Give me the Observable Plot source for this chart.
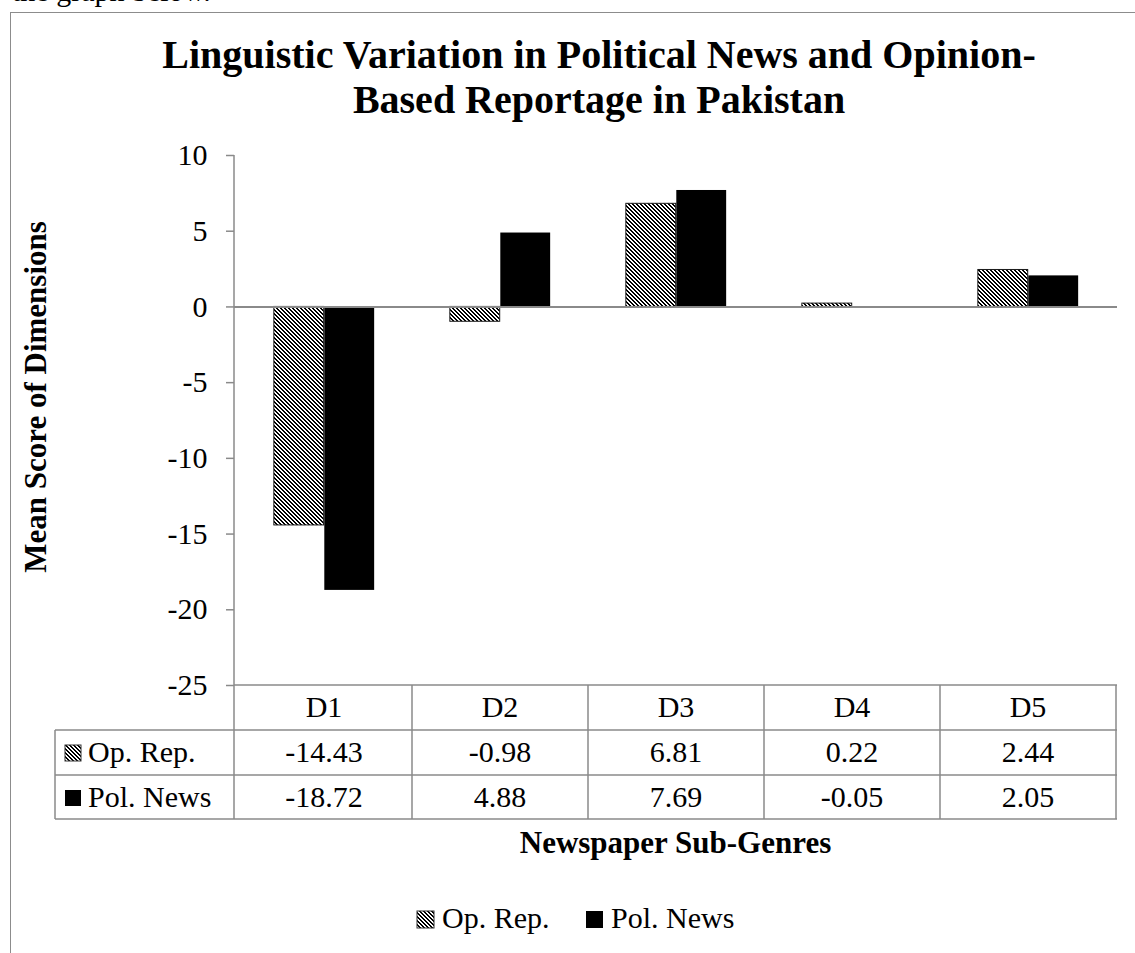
<!DOCTYPE html>
<html>
<head>
<meta charset="utf-8">
<script src="https://cdn.jsdelivr.net/npm/d3@7"></script>
<script src="https://cdn.jsdelivr.net/npm/@observablehq/plot@0.6"></script>
<style>
  html, body { margin: 0; padding: 0; background: #fff; overflow: hidden; }
  #page { position: relative; width: 1135px; height: 953px; overflow: hidden; font-family: "Liberation Serif", "Times New Roman", serif; }
  #intro { position: absolute; left: 12px; top: -24px; font-size: 30px; line-height: 30px; color: #000; white-space: nowrap; }
  #border { position: absolute; left: 10px; top: 12px; width: 1300px; height: 1200px; border: 1.5px solid #8c8c8c; box-sizing: border-box; }
  #chart { position: absolute; left: 0; top: 0; }
  #chart svg, #chart svg text { font-family: "Liberation Serif", "Times New Roman", serif !important; }
  #chart svg [aria-label="y-axis tick"] path, #chart svg .tick line { stroke: #8a8a8a; stroke-width: 1.5px; }
</style>
</head>
<body>
<div id="page">
  <div id="intro">the graph below.</div>
  <div id="border"></div>
  <div id="chart"></div>
</div>
<script>
const categories = ["D1", "D2", "D3", "D4", "D5"];
const seriesNames = ["Op. Rep.", "Pol. News"];
const opRep = [-14.43, -0.98, 6.81, 0.22, 2.44];
const polNews = [-18.72, 4.88, 7.69, -0.05, 2.05];
const tableLabels = ["-14.43", "-0.98", "6.81", "0.22", "2.44", "-18.72", "4.88", "7.69", "-0.05", "2.05"];
const yTicks = [10, 5, 0, -5, -10, -15, -20, -25];
const titleLines = ["Linguistic Variation in Political News and Opinion-", "Based Reportage in Pakistan"];
const yTitle = "Mean Score of Dimensions";
const xTitle = "Newspaper Sub-Genres";

const opData = categories.map((c, i) => ({cat: c, series: seriesNames[0], value: opRep[i]}));
const polData = categories.map((c, i) => ({cat: c, series: seriesNames[1], value: polNews[i]}));

const W = 1135, H = 953;
const mL = 234, mR = 18, mT = 155, mB = 268;
const bw = (W - mL - mR) / categories.length;
const barW = bw * 0.2857;
const outer = bw / 2 - barW;
const serif = "'Liberation Serif', 'Times New Roman', serif";

const chart = Plot.plot({
  width: W,
  height: H,
  marginLeft: mL,
  marginRight: mR,
  marginTop: mT,
  marginBottom: mB,
  style: {fontFamily: serif, fontSize: "30px", color: "#000", background: "transparent", overflow: "visible"},
  x: {type: "band", domain: categories, padding: 0, axis: null},
  y: {domain: [-25, 10], ticks: yTicks, tickSize: 8, tickPadding: 19, tickFormat: d => String(d), label: null, line: false},
  marks: [
    Plot.barY(opData, {x: "cat", y: "value", fill: "url(#hatch)", stroke: "#1a1a1a", strokeWidth: 1, insetLeft: outer, insetRight: bw / 2}),
    Plot.barY(polData, {x: "cat", y: "value", fill: "#000", insetLeft: bw / 2, insetRight: outer}),
    Plot.ruleY([0], {stroke: "#8a8a8a", strokeWidth: 2})
  ]
});
document.getElementById("chart").appendChild(chart);

const svg = d3.select(chart);
const xs = chart.scale("x");
const ys = chart.scale("y");
const x0 = mL, x1 = W - mR;
const yBottom = ys.apply(-25), yTop = ys.apply(10);

// crisp diagonal hatch pattern (stripes running top-left to bottom-right)
const defs = svg.insert("defs", ":first-child");
const pat = defs.append("pattern").attr("id", "hatch").attr("patternUnits", "userSpaceOnUse")
  .attr("width", 4).attr("height", 4);
pat.append("rect").attr("width", 4).attr("height", 4).attr("fill", "#fff");
for (let r = 0; r < 4; r++) {
  for (const c of [r, (r + 1) % 4]) {
    pat.append("rect").attr("x", c).attr("y", r).attr("width", 1).attr("height", 1).attr("fill", "#000").attr("shape-rendering", "crispEdges");
  }
}

const g = svg.append("g").attr("font-family", serif).attr("text-anchor", "start");
const gray = "#8a8a8a";
// y axis line
g.append("line").attr("x1", x0).attr("x2", x0).attr("y1", yTop).attr("y2", yBottom + 134).attr("stroke", gray).attr("stroke-width", 1.5);

// table
const rowH = 45;
const keyX = 55;
const rows = [yBottom, yBottom + rowH, yBottom + 2 * rowH, yBottom + 3 * rowH - 1];
g.append("line").attr("x1", x0).attr("x2", x1).attr("y1", rows[0]).attr("y2", rows[0]).attr("stroke", gray).attr("stroke-width", 1.5);
for (let r = 1; r < 4; r++) {
  g.append("line").attr("x1", keyX).attr("x2", x1).attr("y1", rows[r]).attr("y2", rows[r]).attr("stroke", gray).attr("stroke-width", 1.5);
}
g.append("line").attr("x1", keyX).attr("x2", keyX).attr("y1", rows[1]).attr("y2", rows[3]).attr("stroke", gray).attr("stroke-width", 1.5);
categories.forEach((c, i) => {
  const left = xs.apply(c);
  const right = left + xs.bandwidth;
  g.append("line").attr("x1", right).attr("x2", right).attr("y1", rows[0]).attr("y2", rows[3]).attr("stroke", gray).attr("stroke-width", 1.5);
  const cx = left + xs.bandwidth / 2;
  g.append("text").attr("x", cx).attr("y", rows[0] + 32).attr("text-anchor", "middle").attr("font-size", 30).text(c);
  g.append("text").attr("x", cx).attr("y", rows[1] + 32).attr("text-anchor", "middle").attr("font-size", 30).text(tableLabels[i]);
  g.append("text").attr("x", cx).attr("y", rows[2] + 32).attr("text-anchor", "middle").attr("font-size", 30).text(tableLabels[5 + i]);
});
// row keys
const fills = ["url(#hatch)", "#000"];
seriesNames.forEach((s, k) => {
  const ry = rows[1 + k];
  g.append("rect").attr("x", 65).attr("y", ry + 15).attr("width", 16).attr("height", 16).attr("fill", fills[k]).attr("stroke", k === 0 ? "#333" : "none").attr("stroke-width", 1);
  g.append("text").attr("x", 88).attr("y", ry + 32).attr("text-anchor", "start").attr("font-size", 30).text(s);
});

// titles
const tg = svg.append("g").attr("font-weight", "bold").attr("font-family", serif);
titleLines.forEach((t, i) => {
  tg.append("text").attr("x", 599).attr("y", 68 + i * 45).attr("text-anchor", "middle").attr("font-size", 40).text(t);
});
tg.append("text").attr("transform", `translate(46, 397) rotate(-90)`).attr("text-anchor", "middle").attr("font-size", 31).text(yTitle);
tg.append("text").attr("x", (x0 + x1) / 2).attr("y", 853).attr("text-anchor", "middle").attr("font-size", 31).text(xTitle);

// legend
const lg = svg.append("g").attr("font-family", serif);
const legX = [417, 586];
seriesNames.forEach((s, k) => {
  lg.append("rect").attr("x", legX[k]).attr("y", 911).attr("width", 17).attr("height", 17).attr("fill", fills[k]).attr("stroke", k === 0 ? "#333" : "none").attr("stroke-width", 1);
  lg.append("text").attr("x", legX[k] + 25).attr("y", 928).attr("text-anchor", "start").attr("font-size", 30).text(s);
});
</script>
</body>
</html>
